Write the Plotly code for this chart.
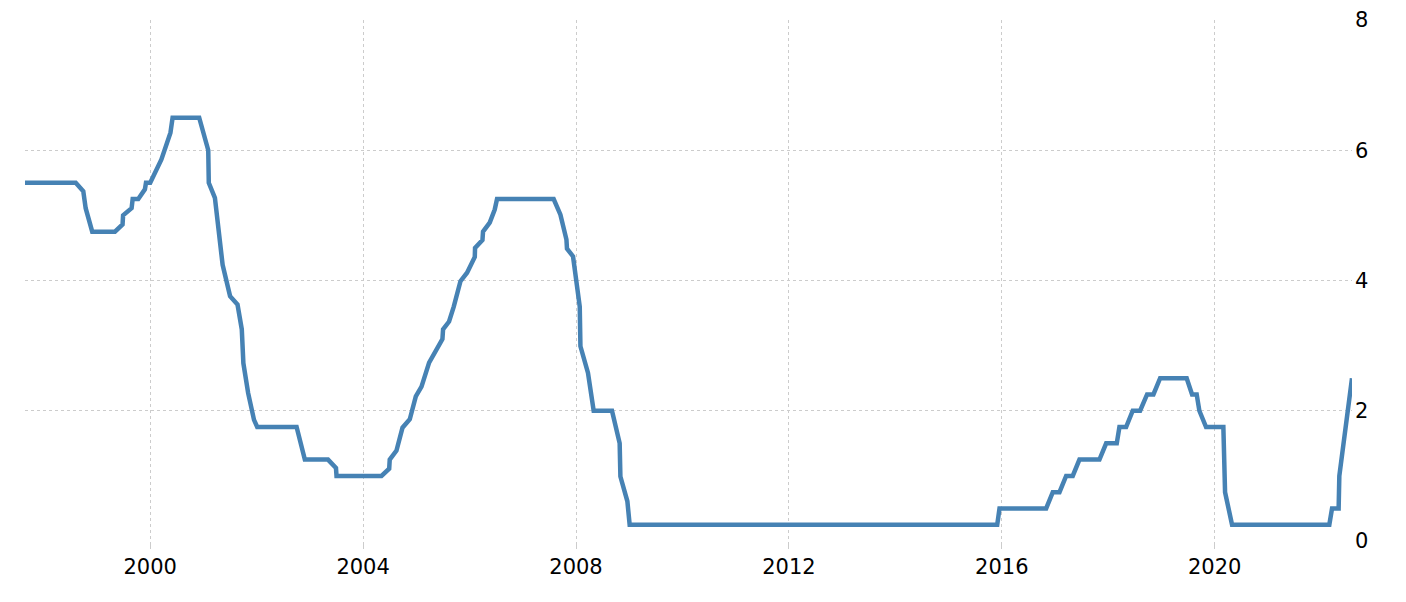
import plotly.graph_objects as go

# Decimal-year positions of the line's vertices
years = [
    1997.647, 1998.60, 1998.742, 1998.787, 1998.91, 1999.337, 1999.48, 1999.49,
    1999.65, 1999.67, 1999.775, 1999.90, 1999.92, 2000.0, 2000.21, 2000.295,
    2000.38, 2000.42, 2000.92, 2001.09, 2001.10, 2001.215, 2001.36, 2001.50,
    2001.64, 2001.72, 2001.75, 2001.84, 2001.95, 2002.01, 2002.75, 2002.905,
    2003.34, 2003.49, 2003.50, 2004.345, 2004.49, 2004.50, 2004.627, 2004.74,
    2004.877, 2004.99, 2005.097, 2005.24, 2005.49, 2005.502, 2005.615, 2005.703,
    2005.829, 2005.953, 2006.098, 2006.103, 2006.242, 2006.253, 2006.379, 2006.473,
    2006.516, 2007.58, 2007.707, 2007.82, 2007.83, 2007.944, 2008.07, 2008.083,
    2008.225, 2008.332, 2008.676, 2008.82, 2008.834, 2008.965, 2009.008, 2015.914,
    2015.957, 2016.834, 2016.958, 2017.084, 2017.209, 2017.333, 2017.459, 2017.835,
    2017.961, 2018.16, 2018.21, 2018.336, 2018.46, 2018.599, 2018.73, 2018.849,
    2018.975, 2019.474, 2019.575, 2019.662, 2019.712, 2019.838, 2020.163, 2020.195,
    2020.326, 2022.154, 2022.205, 2022.329, 2022.342, 2022.58,
]

# Interest rate (%) at each vertex
rates = [
    5.5, 5.5, 5.37, 5.11, 4.75, 4.75, 4.86, 5.0,
    5.11, 5.25, 5.25, 5.4, 5.5, 5.5, 5.86, 6.06,
    6.27, 6.5, 6.5, 6.0, 5.5, 5.27, 4.24, 3.76,
    3.63, 3.25, 2.73, 2.27, 1.86, 1.75, 1.75, 1.25,
    1.25, 1.12, 1.0, 1.0, 1.11, 1.25, 1.39, 1.74,
    1.87, 2.22, 2.37, 2.74, 3.10, 3.25, 3.37, 3.60,
    3.99, 4.12, 4.36, 4.50, 4.62, 4.75, 4.89, 5.09,
    5.25, 5.25, 5.01, 4.63, 4.49, 4.37, 3.60, 2.99,
    2.58, 2.0, 2.0, 1.5, 0.99, 0.61, 0.25, 0.25,
    0.5, 0.5, 0.75, 0.75, 1.0, 1.0, 1.25, 1.25,
    1.5, 1.5, 1.75, 1.75, 2.0, 2.0, 2.25, 2.25,
    2.5, 2.5, 2.25, 2.25, 2.0, 1.75, 1.75, 0.75,
    0.25, 0.25, 0.5, 0.5, 1.0, 2.5,
]

x_tick_vals = [2000, 2004, 2008, 2012, 2016, 2020]
x_tick_text = ["2000", "2004", "2008", "2012", "2016", "2020"]
y_tick_vals = [0, 2, 4, 6, 8]
y_tick_text = ["0", "2", "4", "6", "8"]

fig = go.Figure()
fig.add_trace(go.Scatter(
    x=years, y=rates, mode="lines",
    line=dict(color="#4682b4", width=4.5),
    cliponaxis=False,
    hoverinfo="x+y", showlegend=False,
))

grid_color = "#cccccc"
fig.update_layout(
    width=1390, height=586,
    margin=dict(l=17, r=46, t=12, b=53, autoexpand=False),
    paper_bgcolor="white", plot_bgcolor="white",
    font=dict(family="DejaVu Sans", size=21, color="black"),
    xaxis=dict(
        range=[years[0], years[-1]],
        tickmode="array", tickvals=x_tick_vals, ticktext=x_tick_text,
        showgrid=True, gridcolor=grid_color, griddash="dot", gridwidth=1,
        ticks="outside", ticklen=7, tickcolor=grid_color, tickwidth=1,
        showline=False, zeroline=False, automargin=False,
    ),
    yaxis=dict(
        range=[0, 8], side="right",
        tickmode="array", tickvals=y_tick_vals, ticktext=y_tick_text,
        showgrid=True, gridcolor=grid_color, griddash="dot", gridwidth=1,
        ticks="", showline=False, zeroline=False, automargin=False,
        ticklabelstandoff=2,
    ),
)

fig.write_html("out.html")
